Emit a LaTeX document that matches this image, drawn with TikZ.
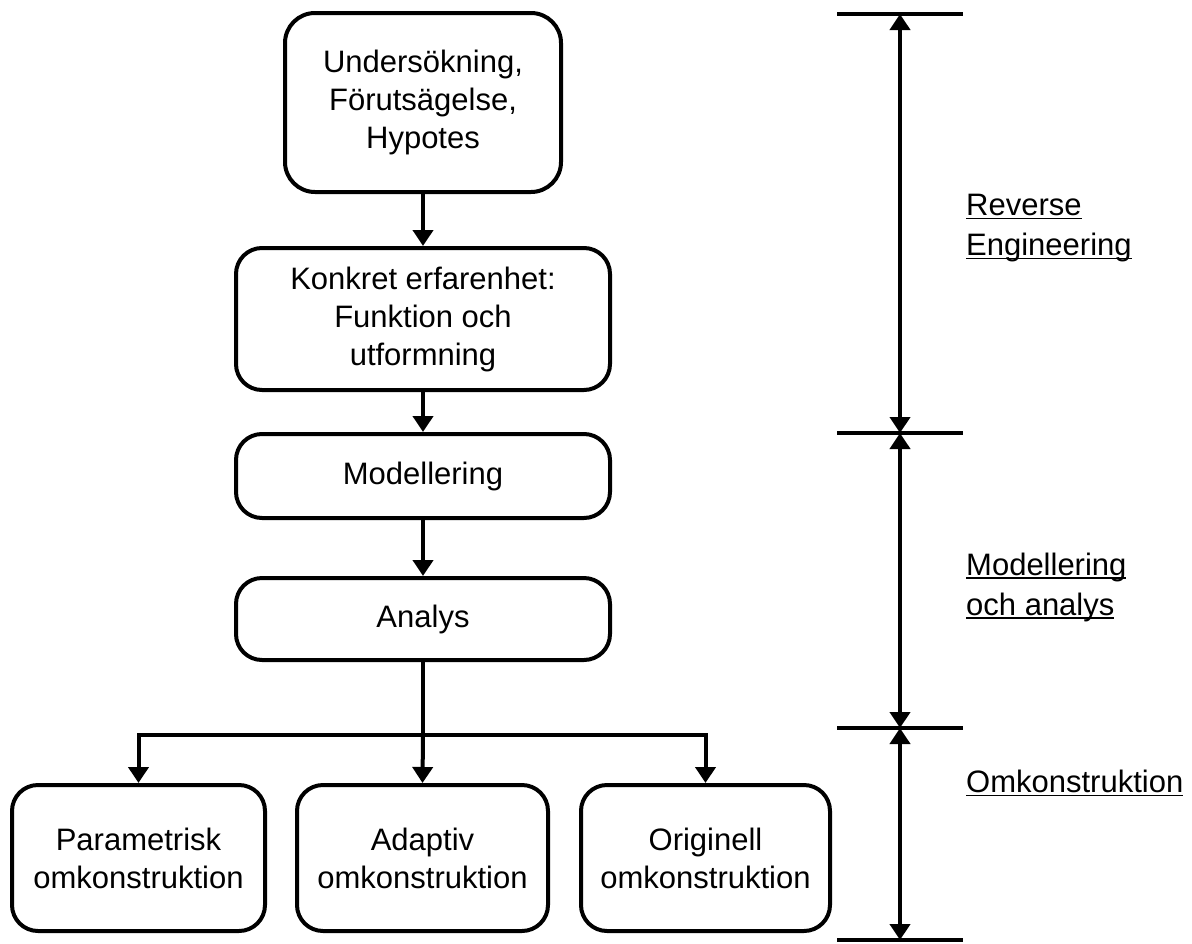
\documentclass[tikz,border=0pt]{standalone}
\usepackage{fontspec}
\setmainfont{Liberation Sans}
\usetikzlibrary{arrows.meta}
% underlined text with a thin rule just under the baseline
\newcommand\undl[1]{\setbox0\hbox{#1}\rlap{\rule[-4pt]{\wd0}{1.6pt}}\box0}
\tikzset{
  stepbox/.style={draw, line width=4pt, rounded corners=26pt, align=center,
    inner sep=0pt, font=\fontsize{31}{38}\selectfont},
  flow/.style={line width=4pt, -{Triangle[length=16pt,width=20pt]}},
  span/.style={line width=4pt, {Triangle[length=16pt,width=20pt]}-{Triangle[length=16pt,width=20pt]}},
  tick/.style={line width=4pt},
  phase/.style={anchor=west, align=left, inner sep=0pt, font=\fontsize{31}{40}\selectfont}
}
\begin{document}
\begin{tikzpicture}[x=1pt,y=-1pt]
\useasboundingbox (0,0) rectangle (1192,943);

% main chain
\node[stepbox, minimum width=276pt, minimum height=179pt, rounded corners=30pt] (und) at (423,102.5)
  {Undersökning,\\Förutsägelse,\\Hypotes};
\node[stepbox, minimum width=374pt, minimum height=142pt] (kon) at (423,319)
  {Konkret erfarenhet:\\Funktion och\\utformning};
\node[stepbox, minimum width=374pt, minimum height=84pt] (mod) at (423,476) {Modellering};
\node[stepbox, minimum width=374pt, minimum height=82pt] (ana) at (423,619) {Analys};

% redesign variants
\node[stepbox, minimum width=253pt, minimum height=146pt] (par) at (138.5,858)
  {Parametrisk\\omkonstruktion};
\node[stepbox, minimum width=251pt, minimum height=146pt] (ada) at (422.5,858)
  {Adaptiv\\omkonstruktion};
\node[stepbox, minimum width=249pt, minimum height=146pt] (ori) at (705.5,858)
  {Originell\\omkonstruktion};

\draw[flow] (und.south) -- (kon.north);
\draw[flow] (kon.south) -- (mod.north);
\draw[flow] (mod.south) -- (ana.north);

\coordinate (split) at (423,735);
\draw[line width=4pt] (ana.south) -- (split);
\draw[flow] (split) -| (par.north);
\draw[flow] (split) -- (ada.north);
\draw[flow] (split) -| (ori.north);

% phase scale on the right
\coordinate (t0l) at (837,14);  \coordinate (t0r) at (963,14);
\coordinate (t1l) at (837,433); \coordinate (t1r) at (963,433);
\coordinate (t2l) at (837,728); \coordinate (t2r) at (963,728);
\coordinate (t3l) at (837,940); \coordinate (t3r) at (963,940);
\coordinate (m0) at (900,14);
\coordinate (m1) at (900,433);
\coordinate (m2) at (900,728);
\coordinate (m3) at (900,940);
\draw[tick] (t0l) -- (t0r);
\draw[tick] (t1l) -- (t1r);
\draw[tick] (t2l) -- (t2r);
\draw[tick] (t3l) -- (t3r);
\draw[span] (m0) -- (m1);
\draw[span] (m1) -- (m2);
\draw[span] (m2) -- (m3);

\node[phase] (re) at (966,228) {\undl{Reverse}\\\undl{Engineering}};
\node[phase] (ma) at (966,587) {\undl{Modellering}\\\undl{och analys}};
\node[phase] (om) at (966,783) {\undl{Omkonstruktion}};
\end{tikzpicture}
\end{document}
